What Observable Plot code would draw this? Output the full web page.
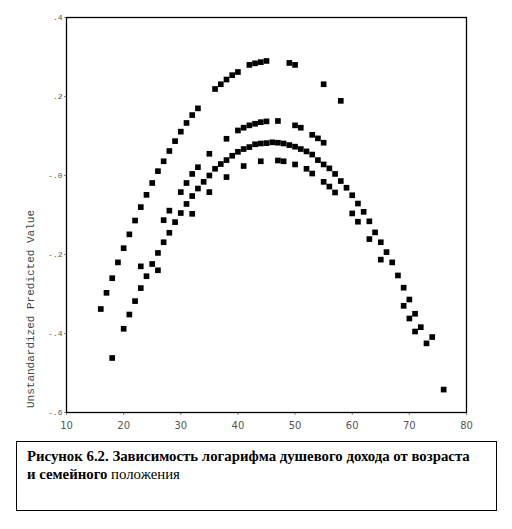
<!DOCTYPE html>
<html>
<head>
<meta charset="utf-8">
<script src="https://cdn.jsdelivr.net/npm/d3@7"></script>
<script src="https://cdn.jsdelivr.net/npm/@observablehq/plot@0.6"></script>
<style>
  html, body { margin: 0; padding: 0; background: #fff; }
  #wrap { position: relative; width: 512px; height: 529px; }
  #caption {
    position: absolute; left: 16px; top: 441px; width: 479px; height: 68px;
    border: 1.5px solid #000; box-sizing: content-box;
    font-family: "Liberation Serif", "Times New Roman", serif; font-size: 14.8px;
    line-height: 18px; color: #000; padding: 0;
  }
  #caption .t { position: absolute; left: 10px; top: 5px; white-space: nowrap; }
  .b { font-weight: bold; }
</style>
</head>
<body>
<div id="wrap">
  <div id="chart"></div>
  <div id="caption"><div class="t"><span class="b">Рисунок 6.2. Зависимость логарифма душевого дохода от возраста</span><br><span class="b">и семейного</span> положения</div></div>
</div>
<script>
// Curve A (top)
const agesA = [16,17,18,19,20,21,22,23,24,25,26,27,28,29,30,31,32,33,36,37,38,39,40,42,43,44,45,49,50,55,58];
const valuesA = [-0.338,-0.297,-0.260,-0.220,-0.184,-0.149,-0.114,-0.080,-0.049,-0.019,0.011,0.036,0.062,0.087,0.111,0.133,0.153,0.170,0.219,0.231,0.243,0.254,0.262,0.280,0.284,0.287,0.290,0.285,0.280,0.231,0.189];
// Curve B
const agesB = [23,27,28,30,31,32,33,35,38,40,41,42,43,44,45,47,50,51,53,54,55,74];
const valuesB = [-0.230,-0.113,-0.089,-0.042,-0.019,0.004,0.021,0.055,0.093,0.114,0.121,0.127,0.131,0.135,0.137,0.138,0.127,0.121,0.103,0.094,0.083,-0.409];
// Curve C
const agesC = [18,20,21,22,23,24,25,26,27,28,29,30,31,32,33,34,35,36,37,38,39,40,41,42,43,44,45,46,47,48,49,50,51,52,53,54,55,56,57,58,59,60,61,62,63,64,65,66,67,68,69,70,71,72,73,76];
const valuesC = [-0.462,-0.388,-0.352,-0.318,-0.285,-0.255,-0.224,-0.196,-0.169,-0.145,-0.118,-0.095,-0.072,-0.052,-0.033,-0.016,0.000,0.017,0.029,0.039,0.050,0.060,0.067,0.072,0.079,0.081,0.082,0.084,0.083,0.081,0.077,0.073,0.067,0.061,0.053,0.039,0.028,0.018,0.004,-0.014,-0.031,-0.050,-0.071,-0.092,-0.116,-0.144,-0.169,-0.194,-0.220,-0.253,-0.284,-0.314,-0.350,-0.384,-0.425,-0.542];
// Curve D
const agesD = [26,32,35,38,41,44,47,48,50,52,53,55,56,57,60,61,63,65,69,70,71];
const valuesD = [-0.240,-0.097,-0.042,-0.004,0.024,0.036,0.038,0.036,0.028,0.017,0.005,-0.016,-0.028,-0.043,-0.096,-0.117,-0.161,-0.213,-0.330,-0.362,-0.395];

const xTicks = [10,20,30,40,50,60,70,80];
const yTicks = [-0.6,-0.4,-0.2,0,0.2,0.4];
const yTickLabels = ["-.6","-.4","-.2","-.0",".2",".4"];
const yLabel = "Unstandardized Predicted Value";

const points = [];
[[agesA, valuesA], [agesB, valuesB], [agesC, valuesC], [agesD, valuesD]].forEach(([a, v]) => {
  a.forEach((age, i) => points.push({age, value: v[i]}));
});

const chart = Plot.plot({
  width: 512,
  height: 437,
  marginTop: 17,
  marginBottom: 25,
  marginLeft: 66,
  marginRight: 46,
  style: {background: "#fff", color: "#000"},
  x: {domain: [10, 80]},
  y: {domain: [-0.6, 0.4]},
  marks: [
    Plot.axisX({ticks: xTicks, tickSize: 3, tickPadding: 6, label: null,
      fontSize: 10, fontFamily: "DejaVu Sans", fill: "#555", stroke: "#888"}),
    Plot.axisY({ticks: yTicks, tickSize: 2, tickPadding: 2, label: null,
      tickFormat: (d) => yTickLabels[yTicks.indexOf(d)],
      fontSize: 8, fontFamily: "Liberation Mono", fill: "#555", stroke: "#888"}),
    Plot.text([yLabel], {frameAnchor: "left", dx: -36, dy: 94, rotate: -90,
      textAnchor: "middle", fontSize: 11, fontFamily: "Liberation Mono", fill: "#444"}),
    Plot.dot(points, {x: "age", y: "value", symbol: "square", r: 3.2, fill: "#000", stroke: null}),
    Plot.frame({stroke: "#000", strokeWidth: 1.3})
  ]
});
document.getElementById("chart").appendChild(chart);
</script>
</body>
</html>
